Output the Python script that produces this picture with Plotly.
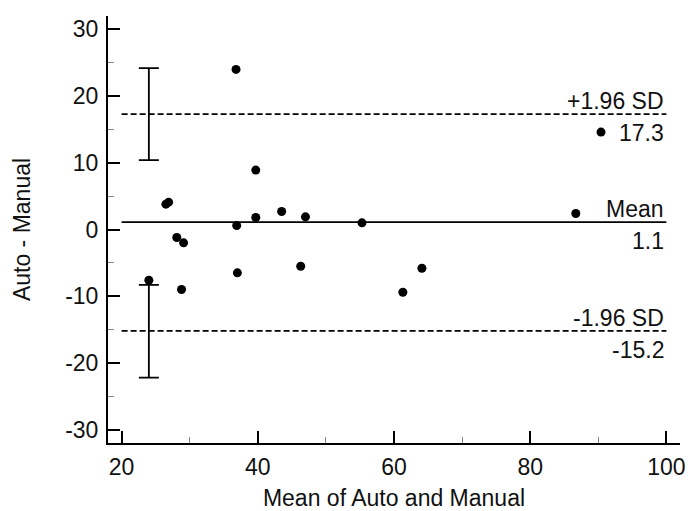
import plotly.graph_objects as go

# Data (Bland-Altman plot)
mean_vals = [26.5, 26.9, 28.1, 29.1, 36.8, 39.7, 36.9, 39.7, 43.5, 47.0,
             55.3, 86.7, 90.4, 24.0, 28.8, 37.0, 46.3, 61.3, 64.1]
diff_vals = [3.8, 4.1, -1.2, -2.0, 24.0, 8.9, 0.6, 1.8, 2.7, 1.9,
             1.0, 2.4, 14.6, -7.6, -9.0, -6.5, -5.5, -9.4, -5.8]

bias = 1.1
upper_loa = 17.3
lower_loa = -15.2
line_x = [20, 100]

ci_x = [24, 24]
ci_center = [17.3, -15.25]
ci_half = [6.9, 6.95]

x_ticks = [20, 40, 60, 80, 100]
x_ticktext = ["20", "40", "60", "80", "100"]
y_ticks = [-30, -20, -10, 0, 10, 20, 30]
y_ticktext = ["-30", "-20", "-10", "0", "10", "20", "30"]

FONT = "Liberation Sans, Arial, sans-serif"
FS = 23

fig = go.Figure()

# limit lines
fig.add_trace(go.Scatter(x=line_x, y=[upper_loa, upper_loa], mode="lines",
                         line=dict(color="black", width=1.6, dash="6px,3px"),
                         hoverinfo="skip", showlegend=False))
fig.add_trace(go.Scatter(x=line_x, y=[lower_loa, lower_loa], mode="lines",
                         line=dict(color="black", width=1.6, dash="6px,3px"),
                         hoverinfo="skip", showlegend=False))
fig.add_trace(go.Scatter(x=line_x, y=[bias, bias], mode="lines",
                         line=dict(color="black", width=1.8),
                         hoverinfo="skip", showlegend=False))

# confidence interval bars
fig.add_trace(go.Scatter(x=ci_x, y=ci_center, mode="markers",
                         marker=dict(size=1, color="rgba(0,0,0,0)"),
                         error_y=dict(type="data", array=ci_half, visible=True,
                                      color="black", thickness=1.8, width=10),
                         hoverinfo="skip", showlegend=False))

# points
fig.add_trace(go.Scatter(x=mean_vals, y=diff_vals, mode="markers",
                         marker=dict(size=9, color="black"),
                         showlegend=False))

labels = [
    (upper_loa, "+1.96 SD", f"{upper_loa:.1f}"),
    (bias, "Mean", f"{bias:.1f}"),
    (lower_loa, "-1.96 SD", f"{lower_loa:.1f}"),
]
for yv, top, bot in labels:
    fig.add_annotation(x=line_x[1], y=yv, text=top, showarrow=False,
                       xanchor="right", yanchor="middle", xshift=0, yshift=13,
                       font=dict(family=FONT, size=FS, color="#111"))
    fig.add_annotation(x=line_x[1], y=yv, text=bot, showarrow=False,
                       xanchor="right", yanchor="middle", xshift=0, yshift=-19,
                       font=dict(family=FONT, size=FS, color="#111"))

fig.update_layout(
    width=688, height=511,
    margin=dict(l=108, r=8, t=16, b=68),
    paper_bgcolor="white", plot_bgcolor="white",
    font=dict(family=FONT, size=FS, color="#111"),
    xaxis=dict(range=[18, 102], tickvals=x_ticks, ticktext=x_ticktext,
               ticks="inside", ticklen=12,
               tickwidth=1.5, tickcolor="black", showline=True, linecolor="black",
               linewidth=2, showgrid=False, zeroline=False, automargin=False,
               minor=dict(tickvals=[30, 50, 70, 90], ticks="inside", ticklen=6,
                          tickcolor="#888", tickwidth=1),
               ticklabelstandoff=2,
               title=dict(text="Mean of Auto and Manual", standoff=14,
                          font=dict(size=FS))),
    yaxis=dict(range=[-32, 32], tickvals=y_ticks, ticktext=y_ticktext,
               ticks="inside", ticklen=12,
               tickwidth=1.5, tickcolor="black", showline=True, linecolor="black",
               linewidth=2, showgrid=False, zeroline=False, automargin=False,
               minor=dict(tickvals=[-25, -15, -5, 5, 15, 25], ticks="inside",
                          ticklen=6, tickcolor="#888", tickwidth=1),
               ticklabelstandoff=3,
               title=dict(text="Auto - Manual", standoff=28, font=dict(size=FS))),
)

# remove the browser's default 8px body margin so the figure fills the window
fig.write_html("out.html",
               config={"displayModeBar": False},
               post_script="document.body.style.margin='0';"
                           "document.documentElement.style.overflow='hidden';")
